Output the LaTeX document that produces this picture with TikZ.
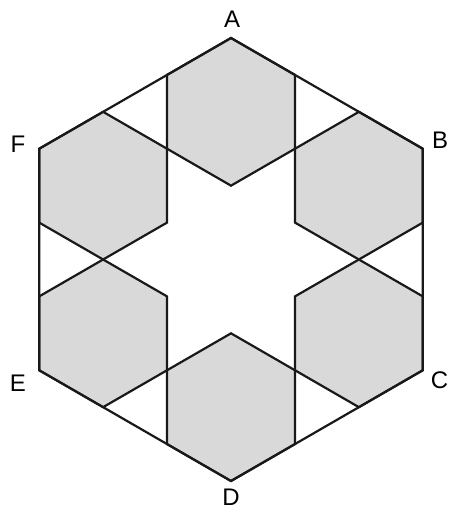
\documentclass[tikz,border=0pt]{standalone}
\usepackage{fontspec}
\setmainfont{Liberation Sans}
\begin{document}
\begin{tikzpicture}[x=1pt,y=-1pt,
  edge/.style={draw=black!90,line width=2.2pt,line join=miter},
  smallhex/.style={edge,fill=black!15},
  lbl/.style={font=\fontsize{24}{24}\selectfont,inner sep=0pt}]
\useasboundingbox (0,0) rectangle (449,513);
\coordinate (O) at (231,259.5);
\def\R{221.5}
\def\r{73.8333}
\def\d{147.6667}
% big hexagon vertices (angles negated because y points down)
\foreach \n/\a in {A/-90,B/-30,C/30,D/90,E/150,F/-150}{
  \coordinate (\n) at ([shift={(O)}]\a:\R);
}
% small hexagons
\foreach \n/\a in {A/-90,B/-30,C/30,D/90,E/150,F/-150}{
  \coordinate (c\n) at ([shift={(O)}]\a:\d);
  \path[smallhex] ([shift={(c\n)}]-90:\r) -- ([shift={(c\n)}]-30:\r)
    -- ([shift={(c\n)}]30:\r) -- ([shift={(c\n)}]90:\r)
    -- ([shift={(c\n)}]150:\r) -- ([shift={(c\n)}]-150:\r) -- cycle;
}
\draw[edge] (A) -- (B) -- (C) -- (D) -- (E) -- (F) -- cycle;
\node[lbl] (lA) at (232,19) {A};
\node[lbl] (lB) at (440,140) {B};
\node[lbl] (lC) at (439.5,380) {C};
\node[lbl] (lD) at (231,497) {D};
\node[lbl] (lE) at (18,383) {E};
\node[lbl] (lF) at (18,144) {F};
\end{tikzpicture}
\end{document}
